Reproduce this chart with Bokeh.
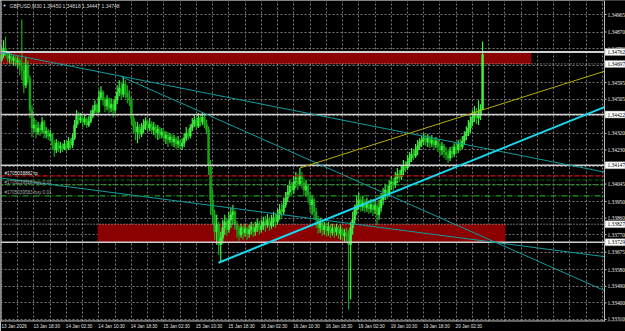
from bokeh.plotting import figure
from bokeh.models import FixedTicker, Span, Label, Range1d
from bokeh.embed import file_html
from bokeh.resources import INLINE

# ---------------- data ----------------
title_text = "GBPUSD,M30  1.34450 1.34818 1.34447 1.34748"
first_open = 1.34716

closes = [
    1.34743, 1.34781, 1.34760, 1.34727, 1.34738, 1.34716, 1.34727, 1.34706, 1.34716, 1.34689,
    1.34662, 1.34581, 1.34689, 1.34619, 1.34446, 1.34349, 1.34365, 1.34327, 1.34349, 1.34338,
    1.34381, 1.34321, 1.34332, 1.34305, 1.34316, 1.34257, 1.34230, 1.34267, 1.34240, 1.34251,
    1.34235, 1.34262, 1.34240, 1.34278, 1.34257, 1.34294, 1.34365, 1.34419, 1.34392, 1.34403,
    1.34381, 1.34397, 1.34365, 1.34386, 1.34413, 1.34446, 1.34473, 1.34435, 1.34516, 1.34543,
    1.34500, 1.34468, 1.34505, 1.34457, 1.34478, 1.34446, 1.34500, 1.34543, 1.34565, 1.34532,
    1.34587, 1.34543, 1.34516, 1.34500, 1.34403, 1.34359, 1.34327, 1.34354, 1.34316, 1.34343,
    1.34365, 1.34386, 1.34349, 1.34370, 1.34338, 1.34354, 1.34321, 1.34343, 1.34311, 1.34327,
    1.34294, 1.34311, 1.34284, 1.34300, 1.34273, 1.34289, 1.34262, 1.34278, 1.34251, 1.34267,
    1.34294, 1.34321, 1.34305, 1.34349, 1.34370, 1.34392, 1.34359, 1.34403, 1.34381, 1.34408,
    1.34370, 1.34338, 1.34148, 1.33959, 1.33878, 1.33786, 1.33824, 1.33716, 1.33753, 1.33808,
    1.33840, 1.33797, 1.33851, 1.33878, 1.33894, 1.33824, 1.33797, 1.33770, 1.33808, 1.33780,
    1.33802, 1.33775, 1.33797, 1.33813, 1.33786, 1.33808, 1.33829, 1.33797, 1.33818, 1.33840,
    1.33824, 1.33851, 1.33818, 1.33840, 1.33862, 1.33840, 1.33878, 1.33905, 1.33894, 1.33932,
    1.33970, 1.34002, 1.34035, 1.34013, 1.34056, 1.34078, 1.34046, 1.34089, 1.34051, 1.34013,
    1.34035, 1.33986, 1.33932, 1.33959, 1.33894, 1.33851, 1.33808, 1.33835, 1.33797, 1.33818,
    1.33791, 1.33813, 1.33780, 1.33802, 1.33786, 1.33808, 1.33775, 1.33797, 1.33764, 1.33780,
    1.33770, 1.33716, 1.33808, 1.33851, 1.33905, 1.33932, 1.33959, 1.33921, 1.33943, 1.33916,
    1.33937, 1.33910, 1.33932, 1.33905, 1.33927, 1.33878, 1.33916, 1.33959, 1.33986, 1.34013,
    1.33991, 1.34035, 1.34056, 1.34040, 1.34078, 1.34100, 1.34083, 1.34121, 1.34143, 1.34132,
    1.34165, 1.34186, 1.34208, 1.34197, 1.34230, 1.34251, 1.34273, 1.34284, 1.34294, 1.34273,
    1.34294, 1.34267, 1.34284, 1.34257, 1.34278, 1.34246, 1.34230, 1.34251, 1.34219, 1.34202,
    1.34186, 1.34224, 1.34208, 1.34246, 1.34230, 1.34262, 1.34246, 1.34278, 1.34305, 1.34327,
    1.34349, 1.34381, 1.34408, 1.34435, 1.34403, 1.34419, 1.34450, 1.34748,
]

highs = [
    1.34797, 1.34825, 1.34846, 1.34770, 1.34760, 1.34749, 1.34743, 1.34738, 1.34738, 1.34727,
    1.34938, 1.34706, 1.34733, 1.34716, 1.34635, 1.34473, 1.34403, 1.34392, 1.34381, 1.34370,
    1.34408, 1.34392, 1.34354, 1.34343, 1.34338, 1.34321, 1.34284, 1.34289, 1.34278, 1.34273,
    1.34267, 1.34284, 1.34278, 1.34300, 1.34294, 1.34321, 1.34392, 1.34446, 1.34435, 1.34430,
    1.34413, 1.34419, 1.34408, 1.34413, 1.34446, 1.34473, 1.34500, 1.34484, 1.34554, 1.34576,
    1.34554, 1.34516, 1.34527, 1.34516, 1.34511, 1.34500, 1.34522, 1.34581, 1.34608, 1.34597,
    1.34624, 1.34608, 1.34581, 1.34554, 1.34516, 1.34419, 1.34386, 1.34381, 1.34370, 1.34376,
    1.34397, 1.34408, 1.34392, 1.34403, 1.34386, 1.34381, 1.34370, 1.34365, 1.34354, 1.34349,
    1.34338, 1.34332, 1.34327, 1.34321, 1.34316, 1.34311, 1.34300, 1.34305, 1.34289, 1.34294,
    1.34321, 1.34354, 1.34343, 1.34370, 1.34403, 1.34424, 1.34408, 1.34430, 1.34424, 1.34435,
    1.34424, 1.34392, 1.34359, 1.34175, 1.34013, 1.33905, 1.33878, 1.33840, 1.33786, 1.33851,
    1.33878, 1.33862, 1.33894, 1.33916, 1.33932, 1.33905, 1.33845, 1.33818, 1.33829, 1.33818,
    1.33829, 1.33813, 1.33824, 1.33840, 1.33829, 1.33840, 1.33856, 1.33845, 1.33851, 1.33867,
    1.33872, 1.33883, 1.33867, 1.33878, 1.33894, 1.33883, 1.33910, 1.33937, 1.33943, 1.33970,
    1.34002, 1.34040, 1.34067, 1.34056, 1.34089, 1.34110, 1.34100, 1.34132, 1.34110, 1.34078,
    1.34067, 1.34046, 1.34002, 1.33986, 1.33970, 1.33916, 1.33872, 1.33862, 1.33845, 1.33840,
    1.33835, 1.33840, 1.33824, 1.33829, 1.33818, 1.33829, 1.33818, 1.33824, 1.33808, 1.33802,
    1.33808, 1.33797, 1.33840, 1.33894, 1.33932, 1.33986, 1.33997, 1.33975, 1.33981, 1.33964,
    1.33970, 1.33959, 1.33964, 1.33948, 1.33959, 1.33943, 1.33959, 1.33997, 1.34024, 1.34046,
    1.34040, 1.34067, 1.34089, 1.34078, 1.34110, 1.34132, 1.34121, 1.34148, 1.34175, 1.34170,
    1.34202, 1.34219, 1.34240, 1.34235, 1.34262, 1.34284, 1.34294, 1.34305, 1.34321, 1.34311,
    1.34316, 1.34305, 1.34311, 1.34294, 1.34300, 1.34289, 1.34267, 1.34273, 1.34262, 1.34246,
    1.34230, 1.34246, 1.34251, 1.34267, 1.34273, 1.34284, 1.34289, 1.34305, 1.34332, 1.34359,
    1.34392, 1.34413, 1.34446, 1.34468, 1.34457, 1.34500, 1.34478, 1.34818,
]

lows = [
    1.34706, 1.34727, 1.34738, 1.34706, 1.34700, 1.34695, 1.34689, 1.34684, 1.34673, 1.34635,
    1.34608, 1.34538, 1.34565, 1.34592, 1.34403, 1.34300, 1.34327, 1.34294, 1.34311, 1.34305,
    1.34321, 1.34294, 1.34294, 1.34284, 1.34278, 1.34230, 1.34192, 1.34213, 1.34219, 1.34213,
    1.34219, 1.34230, 1.34219, 1.34230, 1.34235, 1.34240, 1.34284, 1.34349, 1.34370, 1.34376,
    1.34354, 1.34365, 1.34349, 1.34354, 1.34376, 1.34403, 1.34430, 1.34419, 1.34435, 1.34500,
    1.34473, 1.34435, 1.34446, 1.34430, 1.34435, 1.34408, 1.34430, 1.34478, 1.34522, 1.34505,
    1.34516, 1.34511, 1.34484, 1.34468, 1.34370, 1.34316, 1.34284, 1.34267, 1.34289, 1.34300,
    1.34321, 1.34338, 1.34327, 1.34332, 1.34316, 1.34311, 1.34294, 1.34284, 1.34289, 1.34294,
    1.34273, 1.34262, 1.34246, 1.34267, 1.34251, 1.34246, 1.34235, 1.34240, 1.34230, 1.34230,
    1.34246, 1.34278, 1.34284, 1.34294, 1.34332, 1.34354, 1.34338, 1.34349, 1.34359, 1.34365,
    1.34349, 1.34316, 1.34094, 1.33878, 1.33824, 1.33743, 1.33716, 1.33661, 1.33624, 1.33721,
    1.33770, 1.33764, 1.33780, 1.33808, 1.33824, 1.33797, 1.33753, 1.33737, 1.33753, 1.33743,
    1.33759, 1.33743, 1.33753, 1.33770, 1.33759, 1.33764, 1.33786, 1.33770, 1.33780, 1.33797,
    1.33786, 1.33808, 1.33791, 1.33802, 1.33813, 1.33808, 1.33824, 1.33851, 1.33862, 1.33878,
    1.33916, 1.33948, 1.33981, 1.33986, 1.33991, 1.34024, 1.34013, 1.34035, 1.34019, 1.33981,
    1.33975, 1.33943, 1.33894, 1.33878, 1.33851, 1.33808, 1.33775, 1.33780, 1.33764, 1.33770,
    1.33759, 1.33764, 1.33753, 1.33764, 1.33753, 1.33764, 1.33748, 1.33743, 1.33737, 1.33732,
    1.33732, 1.33364, 1.33418, 1.33770, 1.33824, 1.33878, 1.33905, 1.33894, 1.33899, 1.33889,
    1.33894, 1.33883, 1.33889, 1.33872, 1.33883, 1.33824, 1.33851, 1.33894, 1.33932, 1.33959,
    1.33964, 1.33975, 1.34013, 1.34008, 1.34024, 1.34051, 1.34056, 1.34067, 1.34094, 1.34110,
    1.34121, 1.34143, 1.34165, 1.34175, 1.34186, 1.34202, 1.34230, 1.34246, 1.34257, 1.34251,
    1.34246, 1.34240, 1.34246, 1.34230, 1.34240, 1.34219, 1.34197, 1.34202, 1.34186, 1.34175,
    1.34159, 1.34170, 1.34186, 1.34192, 1.34208, 1.34213, 1.34224, 1.34235, 1.34257, 1.34284,
    1.34305, 1.34321, 1.34359, 1.34381, 1.34370, 1.34365, 1.34392, 1.34447,
]

time_labels = ["13 Jan 2026", "13 Jan 18:30", "14 Jan 02:30", "14 Jan 10:30", "14 Jan 18:30",
               "15 Jan 02:30", "15 Jan 10:30", "15 Jan 18:30", "16 Jan 02:30", "16 Jan 10:30",
               "16 Jan 18:30", "19 Jan 02:30", "19 Jan 10:30", "19 Jan 18:30", "20 Jan 02:30"]
time_label_bars = [0, 16, 32, 48, 64, 80, 96, 112, 128, 144, 160, 176, 192, 208, 224]

price_ticks = [1.34965, 1.34870, 1.34780, 1.34690, 1.34595, 1.34505, 1.34415, 1.34320, 1.34230,
               1.34140, 1.34045, 1.33950, 1.33860, 1.33770, 1.33675, 1.33580, 1.33490, 1.33400, 1.33310]

solid_levels = [1.34762, 1.34422, 1.34147, 1.33729]
dotted_levels = [1.34697, 1.33827]
price_boxes = [1.34762, 1.34697, 1.34422, 1.34147, 1.33827, 1.33729]

zone_left = [-0.5, 47.3]
zone_right = [261.0, 248.3]
zone_top = [1.34762, 1.33827]
zone_bottom = [1.34697, 1.33729]

teal_x0 = [-0.5, 58.6, -0.5]
teal_p0 = [1.34760, 1.34630, 1.34078]
teal_x1 = [297.0, 297.0, 297.0]
teal_p1 = [1.34110, 1.33467, 1.33651]

support_x = [106.9, 297.0]
support_p = [1.33618, 1.34462]

yellow_x = [147.0, 297.0]
yellow_p = [1.34132, 1.34657]

order_levels = [1.34089, 1.34067, 1.34040, 1.33981]
order_colors = ["#D01010", "#0A6A0A", "#1FA01F", "#1FA01F"]
order_dashes = ["5 2", "4 2", "3 3", "6 2 1 2"]
order_texts = ["#1705038882 tp", "#1705039528 buy 0.01", "#1705039583 buy 0.01"]
order_text_levels = [1.34100, 1.34051, 1.33997]

# ---------------- derived candle geometry ----------------
n = len(closes)
idx = list(range(n))
opens = [first_open] + closes[:-1]
hi = [max(h, o, c) for h, o, c in zip(highs, opens, closes)]
lo = [min(l, o, c) for l, o, c in zip(lows, opens, closes)]
up = [c >= o for o, c in zip(opens, closes)]
body_top = [max(o, c) for o, c in zip(opens, closes)]
body_bot = [min(o, c) for o, c in zip(opens, closes)]
body_col = ["#40F040" if u else "#18A818" for u in up]

# plotting window: frame spans the whole width; the price scale column is at the right
X0 = -0.49
AXIS_X = 297.04            # where the price scale starts
XE = 307.4                 # right edge of the window
BOX_X = AXIS_X + 5.2       # centre of the price boxes on the scale
Y0, Y1 = 1.33299, 1.35041

p = figure(width=625, height=331, x_range=Range1d(X0, XE), y_range=Range1d(Y0, Y1),
           output_backend="svg", toolbar_location=None, y_axis_location=None,
           background_fill_color="black", border_fill_color="black",
           min_border=0, outline_line_color=None)

AX = "#C0C0C0"
FONT = "Liberation Sans"

# time axis (labels begin at their bar, so tick centres are shifted right)
shift = 6.25
xt = [b + shift for b in time_label_bars]
p.xaxis.ticker = FixedTicker(ticks=xt)
p.xaxis.major_label_overrides = {t: lab for t, lab in zip(xt, time_labels)}
p.xaxis.axis_line_color = None
p.xaxis.major_tick_line_color = None
p.xaxis.major_tick_out = 0
p.xaxis.major_tick_in = 0
p.xaxis.minor_tick_line_color = None
p.xaxis.major_label_standoff = 2
p.xaxis.major_label_text_font_size = "4.6px"
p.xaxis.major_label_text_font = FONT
p.xaxis.major_label_text_color = "#E0E0E0"

# grid
p.xgrid.ticker = FixedTicker(ticks=list(range(0, 297, 8)))
p.ygrid.ticker = FixedTicker(ticks=price_ticks)
for g in (p.xgrid, p.ygrid):
    g.grid_line_color = "#787878"
    g.grid_line_dash = "2 2"
    g.grid_line_width = 1

# price-scale column background (hides grid there)
p.quad(left=[AXIS_X], right=[XE + 2], top=[Y1 + 0.001], bottom=[Y0 - 0.001],
       fill_color="black", line_color=None)

# rectangles (zones)
p.quad(left=zone_left, right=zone_right, top=zone_top, bottom=zone_bottom,
       fill_color="#8B0000", line_color=None)

# candles
p.segment(x0=idx, y0=lo, x1=idx, y1=hi, line_color=body_col, line_width=1.2)
p.vbar(x=idx, width=0.9, top=body_top, bottom=body_bot, fill_color=body_col, line_color=body_col,
       line_width=0.6)

# horizontal levels
nl = len(solid_levels)
p.segment(x0=[X0] * nl, x1=[AXIS_X] * nl, y0=solid_levels, y1=solid_levels,
          line_color="#D0D0D0", line_width=[2] + [1.5] * (nl - 1))
nd = len(dotted_levels)
p.segment(x0=[X0] * nd, x1=[AXIS_X] * nd, y0=dotted_levels, y1=dotted_levels,
          line_color="#CFCFCF", line_width=1, line_dash="1 2")

# order lines
for lv, col, dash in zip(order_levels, order_colors, order_dashes):
    p.segment(x0=[X0], x1=[AXIS_X], y0=[lv], y1=[lv], line_color=col, line_width=1.2,
              line_dash=dash)

# trend lines
p.segment(x0=teal_x0, y0=teal_p0, x1=teal_x1, y1=teal_p1, line_color="#129C9C", line_width=1)
p.line(x=yellow_x, y=yellow_p, line_color="#B4AE00", line_width=1)
p.line(x=support_x, y=support_p, line_color="#18D8F0", line_width=2)

# frame lines: price scale line and time scale line
p.segment(x0=[AXIS_X], x1=[AXIS_X], y0=[Y0], y1=[Y1], line_color=AX, line_width=1)
p.segment(x0=[X0], x1=[AXIS_X], y0=[Y0 + 0.00003], y1=[Y0 + 0.00003], line_color=AX,
          line_width=1)

# price scale: ticks and labels
nt = len(price_ticks)
p.segment(x0=[AXIS_X] * nt, x1=[AXIS_X + 1.0] * nt, y0=price_ticks, y1=price_ticks,
          line_color=AX, line_width=1)
p.text(x=[AXIS_X] * nt, y=price_ticks, text=[f"{t:.5f}" for t in price_ticks],
       x_offset=3, text_font=FONT, text_font_size="5.4px", text_baseline="middle",
       text_align="left", text_color="#ECECEC")

# price boxes on the scale
nb = len(price_boxes)
p.rect(x=[BOX_X] * nb, y=price_boxes, width=20, height=7, width_units="screen",
       height_units="screen", fill_color="white", line_color="#909090", line_width=0.5)
p.text(x=[AXIS_X] * nb, y=price_boxes, text=[f"{b:.5f}" for b in price_boxes],
       x_offset=3, text_font=FONT, text_font_size="5.4px", text_baseline="middle",
       text_align="left", text_color="black")

# order labels
for k, (txt, lv) in enumerate(zip(order_texts, order_text_levels)):
    p.add_layout(Label(x=X0, y=lv, x_offset=4, text=txt, text_font=FONT,
                       text_font_size="4.6px", text_baseline="middle",
                       text_color="#E8E8E8" if k == 0 else "#A8A8A8"))

# title
p.add_layout(Label(x=X0, y=Y1, x_offset=2, y_offset=-5, text="\u25BC", text_font=FONT,
                   text_font_size="4px", text_baseline="middle", text_color="#E0E0E0"))
p.add_layout(Label(x=X0, y=Y1, x_offset=9, y_offset=-5, text=title_text, text_font=FONT,
                   text_font_size="5px", text_baseline="middle", text_color="#D8D8D8"))

# left frame border
p.add_layout(Span(location=X0 + 0.3, dimension="height", line_color="#A0A0A0", line_width=1))

open("out.html", "w").write(file_html(p, INLINE))
